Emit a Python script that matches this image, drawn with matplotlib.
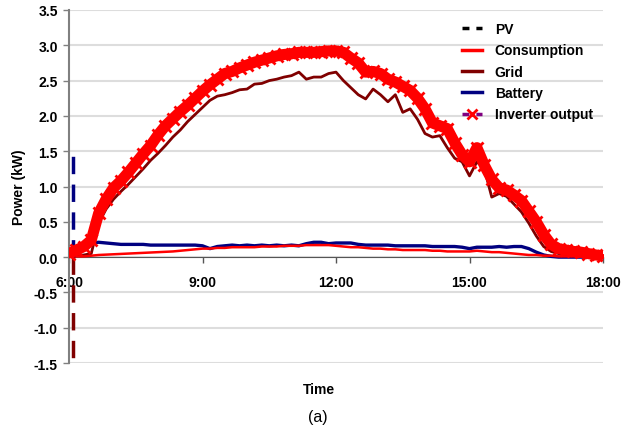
import numpy as np
from matplotlib import pyplot as plt
from matplotlib.lines import Line2D

# time axis, 10 minute steps from 6:00 to 18:00 (hours)
hours = np.linspace(6, 18, 73)

inverter = [0.05, 0.10, 0.15, 0.24, 0.62, 0.82, 0.98, 1.08, 1.20, 1.33, 1.46, 1.58,
            1.73, 1.86, 1.96, 2.06, 2.15, 2.25, 2.35, 2.44, 2.52, 2.60, 2.63, 2.68,
            2.72, 2.76, 2.79, 2.82, 2.85, 2.87, 2.88, 2.90, 2.90, 2.90, 2.91, 2.92,
            2.92, 2.90, 2.82, 2.75, 2.62, 2.63, 2.60, 2.52, 2.48, 2.42, 2.36, 2.25,
            2.10, 1.90, 1.86, 1.82, 1.62, 1.45, 1.35, 1.55, 1.30, 1.10, 0.98, 0.95,
            0.88, 0.80, 0.65, 0.50, 0.32, 0.18, 0.12, 0.10, 0.08, 0.07, 0.05, 0.03,
            0.02]

pv = [0.06, 0.11, 0.16, 0.26, 0.64, 0.84, 1.00, 1.10, 1.22, 1.35, 1.48, 1.60,
      1.75, 1.88, 1.98, 2.08, 2.17, 2.27, 2.37, 2.46, 2.54, 2.62, 2.65, 2.70,
      2.74, 2.78, 2.81, 2.84, 2.87, 2.89, 2.90, 2.92, 2.92, 2.92, 2.93, 2.94,
      2.94, 2.92, 2.84, 2.77, 2.64, 2.65, 2.62, 2.54, 2.50, 2.44, 2.38, 2.27,
      2.12, 1.92, 1.88, 1.84, 1.64, 1.47, 1.37, 1.57, 1.32, 1.12, 1.00, 0.97,
      0.90, 0.82, 0.67, 0.52, 0.34, 0.20, 0.13, 0.11, 0.09, 0.08, 0.06, 0.04,
      0.03]

grid = [0.02, 0.02, 0.03, 0.05, 0.48, 0.68, 0.82, 0.93, 1.03, 1.14, 1.25, 1.37,
        1.47, 1.58, 1.70, 1.80, 1.92, 2.02, 2.12, 2.22, 2.28, 2.30, 2.33, 2.37,
        2.38, 2.45, 2.46, 2.50, 2.52, 2.55, 2.57, 2.62, 2.52, 2.55, 2.55, 2.60,
        2.62, 2.50, 2.40, 2.30, 2.24, 2.38, 2.30, 2.20, 2.30, 2.05, 2.10, 1.95,
        1.75, 1.70, 1.72, 1.55, 1.40, 1.35, 1.15, 1.35, 1.25, 0.85, 0.90, 0.86,
        0.75, 0.64, 0.48, 0.30, 0.15, 0.08, 0.05, 0.04, 0.03, 0.03, 0.02, 0.02,
        0.01]

consumption = [0.00, 0.01, 0.01, 0.02, 0.03, 0.035, 0.04, 0.045, 0.05, 0.055, 0.06, 0.065,
               0.07, 0.075, 0.08, 0.09, 0.10, 0.11, 0.12, 0.12, 0.13, 0.13, 0.14, 0.14,
               0.14, 0.14, 0.15, 0.15, 0.15, 0.16, 0.16, 0.16, 0.17, 0.17, 0.17, 0.17,
               0.16, 0.15, 0.14, 0.14, 0.13, 0.12, 0.12, 0.11, 0.11, 0.10, 0.10, 0.10,
               0.10, 0.09, 0.09, 0.08, 0.08, 0.08, 0.08, 0.09, 0.08, 0.07, 0.07, 0.06,
               0.05, 0.04, 0.03, 0.03, 0.02, 0.02, 0.01, 0.01, 0.01, 0.01, 0.01, 0.01,
               0.01]

battery = [0.05, 0.08, 0.12, 0.20, 0.21, 0.20, 0.19, 0.18, 0.18, 0.18, 0.18, 0.17,
           0.17, 0.17, 0.17, 0.17, 0.17, 0.17, 0.16, 0.12, 0.15, 0.16, 0.17, 0.16,
           0.17, 0.16, 0.17, 0.16, 0.17, 0.16, 0.17, 0.16, 0.19, 0.21, 0.21, 0.19,
           0.20, 0.20, 0.20, 0.18, 0.17, 0.17, 0.17, 0.17, 0.16, 0.16, 0.16, 0.16,
           0.16, 0.15, 0.15, 0.15, 0.15, 0.14, 0.12, 0.14, 0.14, 0.14, 0.15, 0.14,
           0.15, 0.15, 0.12, 0.07, 0.03, 0.01, 0.00, 0.00, 0.00, 0.00, 0.00, 0.00,
           0.00]

# start-up transient just after 6:00
spike_time = 6.08
grid_spike = -1.45
battery_spike = 1.55

xticks = [6, 9, 12, 15, 18]
xtick_labels = ['6:00', '9:00', '12:00', '15:00', '18:00']
yticks = [-1.5, -1.0, -0.5, 0.0, 0.5, 1.0, 1.5, 2.0, 2.5, 3.0, 3.5]

plt.rcParams['font.family'] = ['Liberation Sans', 'DejaVu Sans']

fig = plt.figure(figsize=(6.34, 4.35), dpi=100)
ax = fig.add_axes([69 / 634, 1 - 364 / 435, 534 / 634, 353 / 435])

RED = '#ff0000'
DARKRED = '#800000'
NAVY = '#000080'
PURPLE = '#800080'

ax.plot(hours, pv, color='black', lw=2.5, ls=(0, (3, 3)), zorder=2)
ax.plot(hours, grid, color=DARKRED, lw=2, zorder=3)
ax.plot(hours, battery, color=NAVY, lw=2.4, zorder=3)
ax.plot(hours, consumption, color=RED, lw=1.8, zorder=3)
ax.vlines(spike_time, 0, grid_spike, color=DARKRED, lw=2.5, linestyles=(0, (5, 3)), zorder=3)
ax.vlines(spike_time, 0, battery_spike, color=NAVY, lw=2.5, linestyles=(0, (5, 3)), zorder=3)
ax.plot(hours, inverter, color=PURPLE, lw=2.5, ls=(0, (2, 2)), zorder=4)
ax.plot(hours, inverter, color=RED, lw=8, solid_capstyle='butt', zorder=5)
ax.plot(hours, inverter, ls='none', marker='x', ms=9, mew=2, color=RED, zorder=5)

ax.set_xlim(6, 18)
ax.set_ylim(-1.5, 3.5)
ax.set_yticks(yticks)
ax.set_yticklabels([f'{v:.1f}' for v in yticks])
ax.set_xticks(xticks)
ax.set_xticklabels(xtick_labels)

ax.grid(axis='y', color='#dddddd', lw=1.5)
ax.set_axisbelow(True)
for s in ['top', 'right']:
    ax.spines[s].set_visible(False)
ax.spines['bottom'].set_position(('data', 0))
ax.spines['bottom'].set_color('#555555')
ax.spines['left'].set_color('#808080')
ax.spines['left'].set_linewidth(1.5)
ax.tick_params(axis='x', length=4, width=1, color='#555555', pad=9, labelsize=10)
ax.tick_params(axis='y', length=4, width=1, color='#808080', pad=4, labelsize=10)
for lab in ax.get_xticklabels() + ax.get_yticklabels():
    lab.set_fontweight('bold')

ax.set_ylabel('Power (kW)', fontsize=10, fontweight='bold', labelpad=6)
fig.text(319 / 634, 1 - 390 / 435, 'Time', ha='center', va='center', fontsize=10, fontweight='bold')
fig.text(318 / 634, 1 - 418 / 435, '(a)', ha='center', va='center', fontsize=11.5)

handles = [
    Line2D([], [], color='black', lw=2.5, ls=(0, (2, 2))),
    Line2D([], [], color=RED, lw=2.5),
    Line2D([], [], color=DARKRED, lw=2.5),
    Line2D([], [], color=NAVY, lw=2.5),
    Line2D([], [], color=PURPLE, lw=2.5, ls=(0, (2, 2)), marker='x', mec=RED, mew=2, ms=7),
]
labels = ['PV', 'Consumption', 'Grid', 'Battery', 'Inverter output']
leg = fig.legend(handles, labels, loc='upper left', bbox_to_anchor=(462 / 634, 1 - 23 / 435),
                 frameon=False, handlelength=1.45, handletextpad=0.9, labelspacing=0.53,
                 prop={'size': 10, 'weight': 'bold'}, borderaxespad=0, borderpad=0)

fig.savefig('out.png', dpi=100)
